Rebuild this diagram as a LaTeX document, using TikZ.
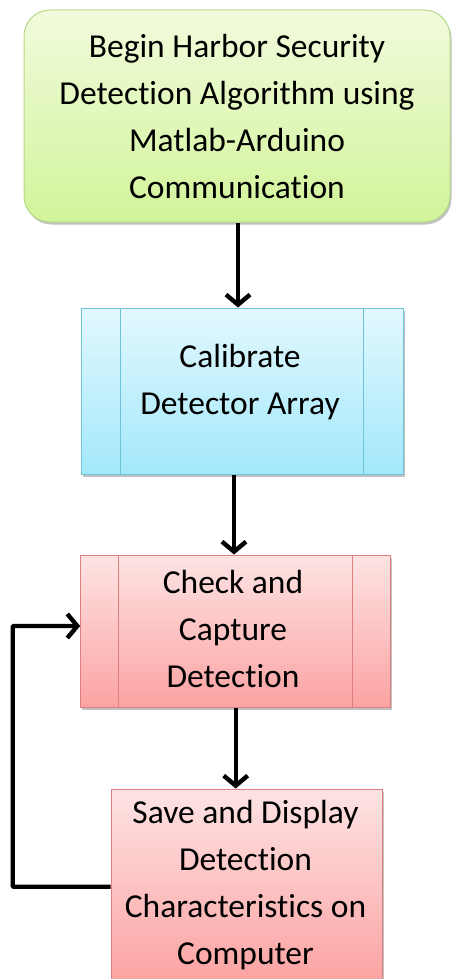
\documentclass[tikz,border=0pt]{standalone}
\usepackage{fontspec}
\setmainfont{Carlito}[Ligatures={NoCommon}]
\usetikzlibrary{arrows.meta,shadows}

\definecolor{greenTop}{HTML}{F1FBDC}
\definecolor{greenBot}{HTML}{D2F49A}
\definecolor{greenLine}{HTML}{B5D98A}
\definecolor{blueTop}{HTML}{E2F8FE}
\definecolor{blueBot}{HTML}{A3E8FB}
\definecolor{blueLine}{HTML}{6FC3D8}
\definecolor{redTop}{HTML}{FDE3E3}
\definecolor{redBot}{HTML}{FCA3A3}
\definecolor{redLine}{HTML}{DE7E7E}

\tikzset{
  boxtext/.style={font=\fontsize{33.5}{47}\selectfont, align=center, text=black},
  softshadow/.style={drop shadow={shadow xshift=1.5pt, shadow yshift=-2.5pt, opacity=0.35, fill=black!70}},
  startbox/.style={boxtext, rectangle, rounded corners=26pt, draw=greenLine, line width=1pt,
    top color=greenTop, bottom color=greenBot, softshadow, inner sep=0pt},
  bluebox/.style={boxtext, rectangle, draw=blueLine, line width=1pt,
    top color=blueTop, bottom color=blueBot, softshadow, inner sep=0pt},
  redbox/.style={boxtext, rectangle, draw=redLine, line width=1pt,
    top color=redTop, bottom color=redBot, softshadow, inner sep=0pt},
  flow/.style={line width=4.4pt, -{Straight Barb[length=10pt, width=24pt, line width=4.4pt]}}
}

\begin{document}
\begin{tikzpicture}[x=1pt, y=-1pt]
  \useasboundingbox (0,0) rectangle (453,979);

  % boxes
  \node[startbox, minimum width=426pt, minimum height=212pt] (start) at (237,116)
    {Begin Harbor Security\\Detection Algorithm using\\Matlab-Arduino\\Communication};
  \node[bluebox, minimum width=322pt, minimum height=166pt] (cal) at (242,391) {};
  \node[boxtext] (caltext) at (240,382) {Calibrate\\Detector Array};
  \node[redbox, minimum width=310pt, minimum height=152pt] (chk) at (235.7,631) {};
  \node[boxtext] (chktext) at (233,628.5) {Check and\\Capture\\Detection};
  \node[redbox, minimum width=271pt, minimum height=192pt] (save) at (246.5,885) {};
  \node[boxtext] (savetext) at (245.5,885) {Save and Display\\Detection\\Characteristics on\\Computer};

  % inner side bars of the predefined-process boxes
  \draw[blueLine, line width=1pt] ([xshift=40.3pt]cal.north west) -- ([xshift=40.3pt]cal.south west);
  \draw[blueLine, line width=1pt] ([xshift=-40pt]cal.north east) -- ([xshift=-40pt]cal.south east);
  \draw[redLine, line width=1pt] ([xshift=38.3pt]chk.north west) -- ([xshift=38.3pt]chk.south west);
  \draw[redLine, line width=1pt] ([xshift=-38.7pt]chk.north east) -- ([xshift=-38.7pt]chk.south east);

  % connector columns
  \coordinate (colA) at (238,0);
  \coordinate (colB) at (234,0);
  \coordinate (colC) at (235.7,0);
  \coordinate (loopX) at (12.7,0);
  \coordinate (loopIn) at (0,626);
  \coordinate (loopOut) at (0,886.7);

  % connectors
  \draw[flow] (start.south -| colA) -- (cal.north -| colA);
  \draw[flow] (cal.south -| colB) -- (chk.north -| colB);
  \draw[flow] (chk.south -| colC) -- (save.north -| colC);
  \draw[flow, rounded corners=1pt] (save.west |- loopOut) -- (loopX |- loopOut) -- (loopX |- loopIn) -- (chk.west |- loopIn);
\end{tikzpicture}
\end{document}
